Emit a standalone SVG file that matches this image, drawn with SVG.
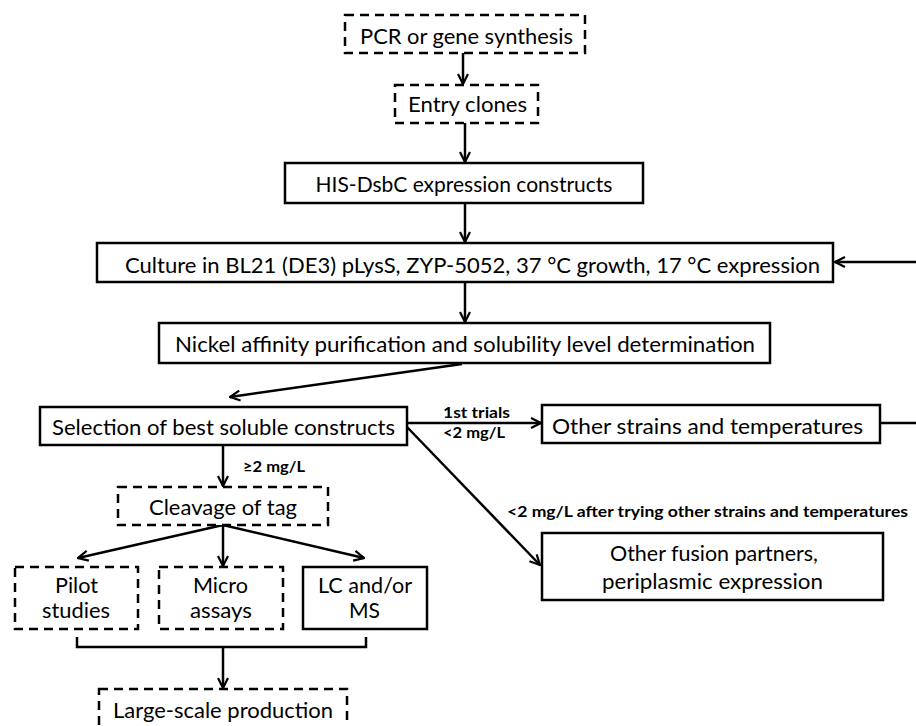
<svg xmlns="http://www.w3.org/2000/svg" width="916" height="726" viewBox="0 0 916 726">
<defs>
<marker id="ah" viewBox="0 0 12 12" refX="11" refY="6" markerWidth="12" markerHeight="12" markerUnits="userSpaceOnUse" orient="auto">
<path d="M1,1 L11,6 L1,11" fill="none" stroke="#000" stroke-width="2.2"/>
</marker>
<style>
.box{fill:#fff;stroke:#000;stroke-width:2.5}
.dash{stroke-dasharray:9,6}
.t{font-family:Lato,"Liberation Sans",sans-serif;font-size:21px;fill:#000}
.lb{font-family:Lato,"Liberation Sans",sans-serif;font-size:16px;font-weight:bold;fill:#000}
.c{fill:none;stroke:#000;stroke-width:2.5}
</style>
</defs>
<rect width="916" height="726" fill="#fff"/>
<g id="connectors">
<line class="c" x1="463" y1="53" x2="463" y2="84" marker-end="url(#ah)"/>
<line class="c" x1="465" y1="123" x2="465" y2="162" marker-end="url(#ah)"/>
<line class="c" x1="465" y1="203" x2="465" y2="242" marker-end="url(#ah)"/>
<line class="c" x1="916" y1="262" x2="835" y2="262" marker-end="url(#ah)"/>
<line class="c" x1="465" y1="282" x2="465" y2="322" marker-end="url(#ah)"/>
<line class="c" x1="462" y1="364" x2="230" y2="397" marker-end="url(#ah)"/>
<line class="c" x1="407" y1="423" x2="541" y2="423" marker-end="url(#ah)"/>
<line class="c" x1="880" y1="423" x2="916" y2="423"/>
<line class="c" x1="407" y1="427" x2="540" y2="565" marker-end="url(#ah)"/>
<line class="c" x1="223" y1="445" x2="223" y2="486" marker-end="url(#ah)"/>
<line class="c" x1="223" y1="525" x2="78" y2="558" marker-end="url(#ah)"/>
<line class="c" x1="223" y1="525" x2="223" y2="566" marker-end="url(#ah)"/>
<line class="c" x1="223" y1="525" x2="364" y2="558" marker-end="url(#ah)"/>
<path class="c" d="M77,637 V647 H366 V637"/>
<line class="c" x1="223" y1="647" x2="223" y2="688" marker-end="url(#ah)"/>
<text class="lb" x="443" y="418" textLength="67" lengthAdjust="spacingAndGlyphs">1st trials</text>
<text class="lb" x="443" y="438" textLength="62" lengthAdjust="spacingAndGlyphs">&lt;2 mg/L</text>
<text class="lb" x="243" y="472" textLength="62" lengthAdjust="spacingAndGlyphs">≥2 mg/L</text>
<text class="lb" x="507" y="517" textLength="401" lengthAdjust="spacingAndGlyphs">&lt;2 mg/L after trying other strains and temperatures</text>
</g>
<g id="pcr"><rect class="box dash" x="345" y="15" width="240" height="38"/><text class="t" x="360" y="44" textLength="213" lengthAdjust="spacingAndGlyphs">PCR or gene synthesis</text></g>
<g id="entry"><rect class="box dash" x="395" y="85" width="143" height="38"/><text class="t" x="408" y="112" textLength="119" lengthAdjust="spacingAndGlyphs">Entry clones</text></g>
<g id="his"><rect class="box" x="285" y="163" width="358" height="40"/><text class="t" x="464" y="192" text-anchor="middle">HIS-DsbC expression constructs</text></g>
<g id="culture"><rect class="box" x="97" y="243" width="736" height="39"/><text class="t" x="125" y="273" textLength="695" lengthAdjust="spacingAndGlyphs">Culture in BL21 (DE3) pLysS, ZYP-5052, 37 °C growth, 17 °C expression</text></g>
<g id="nickel"><rect class="box" x="159" y="323" width="611" height="40"/><text class="t" x="175" y="352" textLength="580" lengthAdjust="spacingAndGlyphs">Nickel affinity purification and solubility level determination</text></g>
<g id="selection"><rect class="box" x="40" y="407" width="367" height="38"/><text class="t" x="52" y="435" textLength="343" lengthAdjust="spacingAndGlyphs">Selection of best soluble constructs</text></g>
<g id="strains"><rect class="box" x="542" y="405" width="338" height="38"/><text class="t" x="552" y="434" textLength="311" lengthAdjust="spacingAndGlyphs">Other strains and temperatures</text></g>
<g id="fusion"><rect class="box" x="542" y="533" width="341" height="67"/><text class="t" x="610" y="561" textLength="208" lengthAdjust="spacingAndGlyphs">Other fusion partners,</text><text class="t" x="602" y="589" textLength="221" lengthAdjust="spacingAndGlyphs">periplasmic expression</text></g>
<g id="cleavage"><rect class="box dash" x="118" y="487" width="210" height="38"/><text class="t" x="149" y="515" textLength="148" lengthAdjust="spacingAndGlyphs">Cleavage of tag</text></g>
<g id="pilot"><rect class="box dash" x="15" y="567" width="123" height="62"/><text class="t" x="55" y="593" textLength="43" lengthAdjust="spacingAndGlyphs">Pilot</text><text class="t" x="42" y="618" textLength="68" lengthAdjust="spacingAndGlyphs">studies</text></g>
<g id="micro"><rect class="box dash" x="159" y="567" width="124" height="62"/><text class="t" x="193" y="593" textLength="55" lengthAdjust="spacingAndGlyphs">Micro</text><text class="t" x="190" y="618" textLength="62" lengthAdjust="spacingAndGlyphs">assays</text></g>
<g id="lcms"><rect class="box" x="303" y="567" width="124" height="62"/><text class="t" x="318" y="593" textLength="94" lengthAdjust="spacingAndGlyphs">LC and/or</text><text class="t" x="349" y="618" textLength="31" lengthAdjust="spacingAndGlyphs">MS</text></g>
<g id="large"><rect class="box dash" x="99" y="689" width="248" height="40"/><text class="t" x="113" y="718" textLength="220" lengthAdjust="spacingAndGlyphs">Large-scale production</text></g>
</svg>
